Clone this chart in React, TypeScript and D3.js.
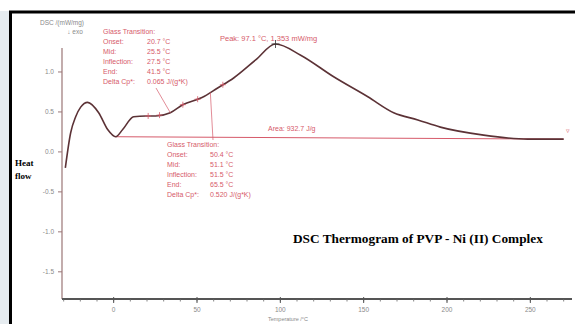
import React from 'react';
import * as d3 from 'd3';

// DSC curve (temperature in °C, heat flow in mW/mg)
const temps = [-29, -25.8, -22.8, -19.8, -15.6, -9, -3.6, 1.2, 5.4, 12, 19.2, 25.2, 34, 41.4, 53, 62.4, 72, 85.2, 97.1, 112.2, 132, 152.5, 168, 182.5, 196, 222, 248.5, 270];
const heatFlow = [-0.2, 0.24, 0.44, 0.56, 0.62, 0.49, 0.28, 0.19, 0.28, 0.44, 0.45, 0.45, 0.49, 0.59, 0.68, 0.8, 0.925, 1.15, 1.35, 1.21, 0.94, 0.69, 0.49, 0.4, 0.31, 0.21, 0.16, 0.16];

const xTicks = [0, 50, 100, 150, 200, 250];
const yTicks = [1.0, 0.5, 0.0, -0.5, -1.0, -1.5];

const glass1Labels = ['Onset', 'Mid', 'Inflection', 'End', 'Delta Cp*'];
const glass1Values = ['20.7 °C', '25.5 °C', '27.5 °C', '41.5 °C', '0.065 J/(g*K)'];
const glass2Labels = ['Onset', 'Mid', 'Inflection', 'End', 'Delta Cp*'];
const glass2Values = ['50.4 °C', '51.1 °C', '51.5 °C', '65.5 °C', '0.520 J/(g*K)'];
const peakTemp = 97.1;
const peakText = 'Peak: 97.1 °C, 1.353 mW/mg';
const areaText = 'Area: 932.7 J/g';
const areaRange = [1.2, 270];

const W = 575;
const H = 324;
const red = '#d65a6a';
const grey = '#8a8a8a';

export default function App() {
  const x = d3.scaleLinear().domain([-31, 275]).range([62, 572]);
  const y = d3.scaleLinear().domain([-1.84, 1.3]).range([299, 48]);
  const at = d3.scaleLinear().domain(temps).range(heatFlow);

  const pts: [number, number][] = temps.map((t, i) => [t, heatFlow[i]]);
  const line = d3.line<[number, number]>()
    .x(d => x(d[0]))
    .y(d => y(d[1]))
    .curve(d3.curveMonotoneX);

  const minorTicks = d3.range(-30, 275, 10);
  const px = x(peakTemp);
  const py = y(at(peakTemp));

  const mark = (t: number, k: string) => (
    <g key={k}>
      <line x1={x(t) - 3} x2={x(t) + 3} y1={y(at(t))} y2={y(at(t))} stroke={red} strokeWidth={0.8} />
      <line x1={x(t)} x2={x(t)} y1={y(at(t)) - 3} y2={y(at(t)) + 3} stroke={red} strokeWidth={0.8} />
    </g>
  );

  return (
    <div style={{ position: 'fixed', left: 0, top: 0 }}>
      <svg width={W} height={H} style={{ display: 'block' }}>
        <rect x={0} y={0} width={W} height={H} fill="#e6ecf0" />
        <rect x={0} y={0} width={W} height={11} fill="#ffffff" />
        <rect x={10} y={12} width={W - 10} height={H - 12} fill="#ffffff" />
        <line x1={10.5} x2={10.5} y1={11} y2={H} stroke="#000" strokeWidth={3} />
        <line x1={9} x2={W} y1={12} y2={12} stroke="#000" strokeWidth={3} />

        {/* axis label top */}
        <text x={62} y={25} fontFamily="Liberation Sans" fontSize={6.5} fill={grey} textAnchor="middle">DSC /(mW/mg)</text>
        <text x={75} y={34} fontFamily="Liberation Sans" fontSize={6.5} fill={grey} textAnchor="middle">↓ exo</text>

        {/* y axis */}
        <line x1={62} x2={62} y1={48} y2={299} stroke="#9a7676" strokeWidth={1.2} />
        {yTicks.map(t => (
          <g key={t}>
            <line x1={58} x2={62} y1={y(t)} y2={y(t)} stroke="#9a7676" />
            <text x={54} y={y(t) + 2.2} fontFamily="Liberation Sans" fontSize={6.5} fill={grey} textAnchor="end">{t.toFixed(1)}</text>
          </g>
        ))}

        {/* x axis */}
        <line x1={62} x2={572} y1={299} y2={299} stroke="#555" strokeWidth={2} />
        {minorTicks.map(t => (
          <line key={t} x1={x(t)} x2={x(t)} y1={299} y2={301.5} stroke="#666" strokeWidth={0.8} />
        ))}
        {xTicks.map(t => (
          <g key={t}>
            <line x1={x(t)} x2={x(t)} y1={297} y2={303} stroke="#555" strokeWidth={1} />
            <text x={x(t)} y={312} fontFamily="Liberation Sans" fontSize={6.5} fill={grey} textAnchor="middle">{t}</text>
          </g>
        ))}
        <text x={288} y={321} fontFamily="Liberation Sans" fontSize={5.5} fill={grey} textAnchor="middle">Temperature /°C</text>

        {/* heat flow label */}
        <text x={15} y={166} fontFamily="Liberation Serif" fontWeight="bold" fontSize={9}>Heat</text>
        <text x={15} y={179} fontFamily="Liberation Serif" fontWeight="bold" fontSize={9}>flow</text>

        {/* area baseline */}
        <line x1={x(areaRange[0])} x2={x(areaRange[1])} y1={y(at(areaRange[0]))} y2={y(at(areaRange[1]))} stroke={red} strokeWidth={1} />
        <text x={268} y={131} fontFamily="Liberation Sans" fontSize={7} fill={red}>{areaText}</text>
        <text x={x(areaRange[1]) + 4} y={133} fontFamily="Liberation Sans" fontSize={7} fill={red} textAnchor="middle">▿</text>

        {/* curve */}
        <path d={line(pts) || ''} fill="none" stroke="#5c3236" strokeWidth={1.6} />

        {/* glass transition 1 */}
        <text x={103} y={34} fontFamily="Liberation Sans" fontSize={7} fill={red}>Glass Transition:</text>
        {glass1Labels.map((l, i) => (
          <g key={l}>
            <text x={103} y={44 + i * 10} fontFamily="Liberation Sans" fontSize={7} fill={red}>{l}:</text>
            <text x={147} y={44 + i * 10} fontFamily="Liberation Sans" fontSize={7} fill={red}>{glass1Values[i]}</text>
          </g>
        ))}
        <line x1={156} x2={x(34)} y1={88} y2={y(at(34))} stroke={red} strokeWidth={0.7} />
        {[20.7, 27.5, 41.5].map((t, i) => mark(t, 'a' + i))}

        {/* glass transition 2 */}
        <text x={167} y={147} fontFamily="Liberation Sans" fontSize={7} fill={red}>Glass Transition:</text>
        {glass2Labels.map((l, i) => (
          <g key={l}>
            <text x={167} y={157 + i * 10} fontFamily="Liberation Sans" fontSize={7} fill={red}>{l}:</text>
            <text x={210} y={157 + i * 10} fontFamily="Liberation Sans" fontSize={7} fill={red}>{glass2Values[i]}</text>
          </g>
        ))}
        <line x1={213} x2={x(58)} y1={140} y2={y(at(58))} stroke={red} strokeWidth={0.7} />
        {[50.4, 65.5].map((t, i) => mark(t, 'b' + i))}

        {/* peak */}
        <text x={220} y={41} fontFamily="Liberation Sans" fontSize={7.5} fill={red}>{peakText}</text>
        <line x1={px - 4} x2={px + 4} y1={py} y2={py} stroke="#333" strokeWidth={0.8} />
        <line x1={px} x2={px} y1={py - 4} y2={py + 4} stroke="#333" strokeWidth={0.8} />

        {/* title */}
        <text x={293} y={243} fontFamily="Liberation Serif" fontWeight="bold" fontSize={13.3}>DSC Thermogram of PVP - Ni (II) Complex</text>
      </svg>
    </div>
  );
}
